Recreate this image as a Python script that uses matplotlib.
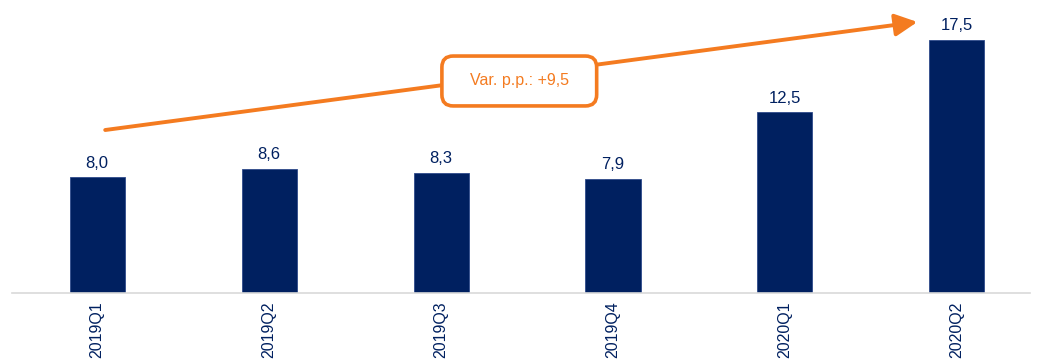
import matplotlib
matplotlib.use("Agg")
import matplotlib.pyplot as plt
from matplotlib.patches import FancyArrowPatch, FancyBboxPatch

plt.rcParams['font.family'] = ['Liberation Sans Narrow', 'Liberation Sans', 'DejaVu Sans']

quarters = ["2019Q1", "2019Q2", "2019Q3", "2019Q4", "2020Q1", "2020Q2"]
values = [8.0, 8.6, 8.3, 7.9, 12.5, 17.5]
variation_label = "Var. p.p.: +9,5"

navy = "#002060"
orange = "#F47B20"

fig = plt.figure(figsize=(10.38, 3.63), dpi=100)
ax = fig.add_axes([12 / 1038, 70 / 363, 1018 / 1038, 293 / 363])

x = list(range(len(quarters)))
ax.bar(x, values, width=0.32, color=navy, edgecolor="#2E4A8A", linewidth=0.6, zorder=2)

for xi, v in zip(x, values):
    ax.text(xi, v + 0.45, f"{v:.1f}".replace(".", ","), ha="center", va="bottom",
            fontsize=12, color=navy)

ax.set_xlim(-0.495, 5.425)
ax.set_ylim(0, 20.26)
ax.set_xticks(x)
ax.set_xticklabels(quarters, rotation=90, fontsize=11.5, color=navy)
ax.tick_params(axis="x", length=0, pad=6)
ax.set_yticks([])
for side in ("top", "right", "left"):
    ax.spines[side].set_visible(False)
ax.spines["bottom"].set_color("#D9D9D9")
ax.spines["bottom"].set_linewidth(1.2)

# trend arrow from the first to the last quarter
arrow = FancyArrowPatch((0.047, 11.27), (4.77, 18.74), arrowstyle="-|>,head_length=9,head_width=4.5",
                        mutation_scale=1.5, color=orange, linewidth=2.8, zorder=3,
                        shrinkA=0, shrinkB=0)
ax.add_patch(arrow)

# callout box with the variation in percentage points
bx, by, bw, bh = 2.455, 14.66, 0.90, 3.45
aspect = 172 / 14.46
box = FancyBboxPatch((bx - bw / 2, by - bh / 2), bw, bh,
                     boxstyle="round,pad=0,rounding_size=0.065", mutation_aspect=aspect,
                     facecolor="white", edgecolor=orange, linewidth=2.6, zorder=4)
ax.add_patch(box)
ax.text(bx, by, variation_label, ha="center", va="center", fontsize=11.5, color=orange, zorder=5)

fig.savefig("out.png", dpi=100)
